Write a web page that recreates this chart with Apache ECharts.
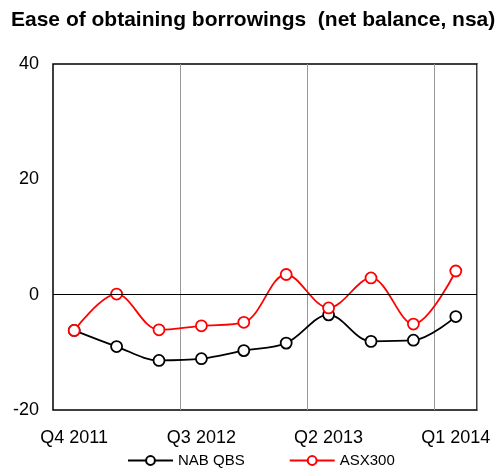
<!DOCTYPE html>
<html>
<head>
<meta charset="utf-8">
<script src="https://cdn.jsdelivr.net/npm/echarts@6/dist/echarts.min.js"></script>
<style>
  html, body { margin: 0; padding: 0; background: #fff; }
  #chart { width: 499px; height: 470px; }
</style>
</head>
<body>
<div id="chart"></div>
<script>
// quarters, only every third one is labelled
const quarters = ['Q4 2011', 'Q1 2012', 'Q2 2012', 'Q3 2012', 'Q4 2012',
  'Q1 2013', 'Q2 2013', 'Q3 2013', 'Q4 2013', 'Q1 2014'];
const nabQbs = [-6.2, -9.0, -11.4, -11.1, -9.7, -8.4, -3.5, -8.1, -7.9, -3.8];
const asx300 = [-6.2, 0.1, -6.1, -5.4, -4.8, 3.5, -2.3, 2.9, -5.1, 4.1];
const yTicks = [-20, 0, 20, 40];

const font = 'Liberation Sans, Arial, sans-serif';
const chart = echarts.init(document.getElementById('chart'));

chart.setOption({
  animation: false,
  title: {
    text: 'Ease of obtaining borrowings  (net balance, nsa)',
    left: 6,
    top: 5,
    textStyle: { fontFamily: font, fontSize: 21, fontWeight: 'bold', color: '#000' }
  },
  legend: {
    bottom: -3,
    left: 122,
    itemWidth: 45,
    itemHeight: 11,
    itemGap: 44,
    textStyle: { fontFamily: font, fontSize: 15, color: '#000' },
    data: ['NAB QBS', 'ASX300']
  },
  grid: {
    left: 53, right: 22, top: 64, bottom: 60,
    show: true,
    borderColor: '#000',
    borderWidth: 1.5
  },
  xAxis: {
    type: 'category',
    data: quarters,
    boundaryGap: true,
    axisLine: { show: false },
    axisTick: { show: false },
    axisLabel: {
      interval: function (i) { return i % 3 === 0; },
      margin: 19,
      fontFamily: font, fontSize: 18, color: '#000'
    },
    splitLine: {
      show: true,
      interval: function (i) { return i > 0 && i % 3 === 0; },
      lineStyle: { color: '#999', width: 1 }
    }
  },
  yAxis: {
    type: 'value',
    min: yTicks[0],
    max: yTicks[yTicks.length - 1],
    interval: 20,
    axisLine: { show: false },
    axisTick: { show: false },
    splitLine: { show: false },
    axisLabel: { margin: 14, fontFamily: font, fontSize: 18, color: '#000' }
  },
  series: [
    {
      name: 'NAB QBS',
      type: 'line',
      data: nabQbs,
      smooth: 0.35,
      symbol: 'circle',
      symbolSize: 11,
      lineStyle: { color: '#000', width: 1.8 },
      itemStyle: { color: '#fff', borderColor: '#000', borderWidth: 1.8 },
      markLine: {
        silent: true,
        symbol: 'none',
        label: { show: false },
        lineStyle: { color: '#000', type: 'solid', width: 1 },
        data: [{ yAxis: 0 }]
      }
    },
    {
      name: 'ASX300',
      type: 'line',
      data: asx300,
      smooth: 0.35,
      symbol: 'circle',
      symbolSize: 11,
      lineStyle: { color: '#f00', width: 1.8 },
      itemStyle: { color: '#fff', borderColor: '#f00', borderWidth: 1.8 }
    }
  ]
});
</script>
</body>
</html>
